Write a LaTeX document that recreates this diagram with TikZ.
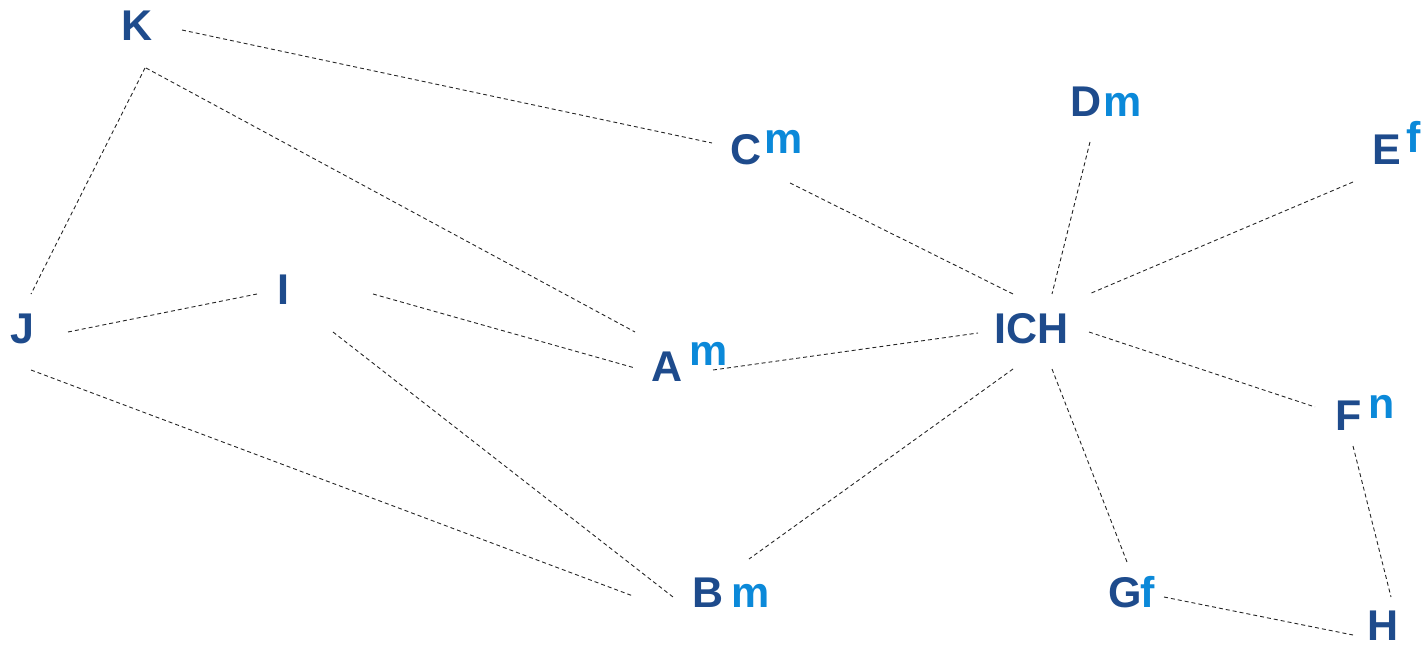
\documentclass[tikz,border=0pt]{standalone}
\usepackage{fontspec}
\setmainfont{Liberation Sans}
\definecolor{dblue}{HTML}{1E4B8C}
\definecolor{lblue}{HTML}{0B89D9}
\tikzset{
  person/.style={anchor=base, inner sep=0pt, text=dblue, font=\fontsize{43}{43}\selectfont\bfseries},
  suffix/.style={anchor=base west, inner sep=0pt, text=lblue, font=\fontsize{43}{43}\selectfont\bfseries},
  link/.style={draw=black!85, line width=0.9pt, dash pattern=on 4pt off 3pt}
}
\begin{document}
\begin{tikzpicture}[x=1pt,y=-1pt]
\path[use as bounding box] (0,0) rectangle (1426,647);
% people
\node[person] (K) at (137.5,41) {K};
\node[person] (C) at (746,165) {C};
\node[suffix] (Cs) at (764,154) {m};
\node[person] (D) at (1086.5,117) {D};
\node[suffix] (Ds) at (1103,117) {m};
\node[person] (E) at (1386.5,165) {E};
\node[suffix] (Es) at (1406,153) {f};
\node[person] (J) at (22.5,343) {J};
\node[person] (I) at (283,304) {I};
\node[person] (A) at (667,381) {A};
\node[suffix] (As) at (689,365) {m};
\node[person] (ICH) at (1031.5,343) {ICH};
\node[person] (F) at (1349,430) {F};
\node[suffix] (Fs) at (1368,418) {n};
\node[person] (B) at (708.5,607) {B};
\node[suffix] (Bs) at (731,607) {m};
\node[person] (G) at (1125,607) {G};
\node[suffix] (Gs) at (1140,607) {f};
\node[person] (H) at (1383,640) {H};
% links
\draw[link] ([shift={(44.5,-11)}]K.base) -- ([shift={(-34,-22)}]C.base);
\draw[link] ([shift={(7.5,27)}]K.base) -- ([shift={(8.5,-49)}]J.base);
\draw[link] ([shift={(8.5,27)}]K.base) -- ([shift={(-32,-49)}]A.base);
\draw[link] ([shift={(44,18)}]C.base) -- ([shift={(-18.5,-49)}]ICH.base);
\draw[link] ([shift={(3.5,25)}]D.base) -- ([shift={(20.5,-49)}]ICH.base);
\draw[link] ([shift={(-33.5,17)}]E.base) -- ([shift={(57.5,-49)}]ICH.base);
\draw[link] ([shift={(45.5,-11)}]J.base) -- ([shift={(-26,-10)}]I.base);
\draw[link] ([shift={(8.5,27)}]J.base) -- ([shift={(-75.5,-11)}]B.base);
\draw[link] ([shift={(90,-10)}]I.base) -- ([shift={(-32,-13)}]A.base);
\draw[link] ([shift={(50,28)}]I.base) -- ([shift={(-35.5,-10)}]B.base);
\draw[link] ([shift={(46,-11)}]A.base) -- ([shift={(-53.5,-10)}]ICH.base);
\draw[link] ([shift={(-18.5,26)}]ICH.base) -- ([shift={(40.5,-48)}]B.base);
\draw[link] ([shift={(57.5,-11)}]ICH.base) -- ([shift={(-34,-23)}]F.base);
\draw[link] ([shift={(20.5,26)}]ICH.base) -- ([shift={(2,-45)}]G.base);
\draw[link] ([shift={(4,16)}]F.base) -- ([shift={(8,-43)}]H.base);
\draw[link] ([shift={(39,-10)}]G.base) -- ([shift={(-30,-5)}]H.base);
\end{tikzpicture}
\end{document}
